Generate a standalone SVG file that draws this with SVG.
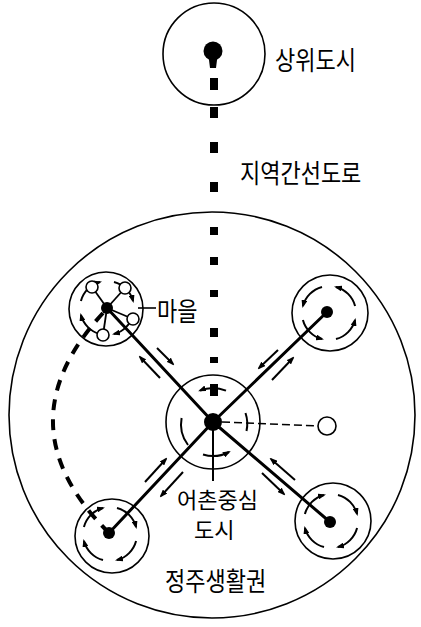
<svg xmlns="http://www.w3.org/2000/svg" width="421" height="627" viewBox="0 0 421 627">
<style>
.bg{fill:#fff}
.ring{fill:none;stroke:#000;stroke-width:1.6}
.arc{fill:none;stroke:#000;stroke-width:2}
.road{stroke:#000;stroke-width:3;fill:none;stroke-linecap:round}
.flow{stroke:#000;stroke-width:2;fill:none}
.dot{fill:#000}
.hollow{fill:#fff;stroke:#000;stroke-width:1.6}
.blk{fill:#000}
.lbl{font-family:"Noto Sans CJK KR","Noto Sans",sans-serif;font-size:22px;fill:#000}
</style>
<defs>
<marker id="ah" viewBox="0 0 8 6" refX="6" refY="3" markerWidth="8" markerHeight="6" markerUnits="userSpaceOnUse" orient="auto">
<path d="M0,0 L8,3 L0,6 z" fill="#000"/>
</marker>
<g id="sring">
<path class="arc" marker-end="url(#ah)" d="M6.99,-26.08 A27,27 0 0 1 26.08,-6.99"/>
<path class="arc" marker-end="url(#ah)" d="M26.08,6.99 A27,27 0 0 1 6.99,26.08"/>
<path class="arc" marker-end="url(#ah)" d="M-6.99,26.08 A27,27 0 0 1 -26.08,6.99"/>
<path class="arc" marker-end="url(#ah)" d="M-26.08,-6.99 A27,27 0 0 1 -6.99,-26.08"/>
</g>
</defs>
<rect class="bg" x="0" y="0" width="421" height="627"/>

<g id="region">
<circle class="ring" cx="212" cy="415" r="203"/>
<text class="lbl" transform="translate(165,591) scale(1,1.2)">정주생활권</text>
</g>

<g id="connectors">
<g id="regional-road">
<rect class="blk" x="210" y="78" width="8" height="12"/>
<rect class="blk" x="210" y="107" width="8" height="11"/>
<rect class="blk" x="210" y="142" width="8" height="11"/>
<rect class="blk" x="210" y="182" width="8" height="10"/>
<rect class="blk" x="210" y="227" width="8" height="8"/>
<rect class="blk" x="210" y="257" width="8" height="8"/>
<rect class="blk" x="210" y="290" width="8" height="7"/>
<rect class="blk" x="210" y="328" width="8" height="9"/>
<rect class="blk" x="210" y="357" width="8" height="6"/>
<rect class="blk" x="210" y="384" width="8" height="12"/>
</g>
<line class="road" x1="213" y1="422" x2="107" y2="308"/>
<line class="road" x1="213" y1="422" x2="327" y2="312"/>
<line class="road" x1="213" y1="422" x2="109" y2="533"/>
<line class="road" x1="213" y1="422" x2="330" y2="522"/>
<path d="M103,313 Q0,425 109,533" fill="none" stroke="#000" stroke-width="4" stroke-dasharray="11,9"/>
<line x1="222" y1="422" x2="318" y2="426" stroke="#000" stroke-width="1.5" stroke-dasharray="8,4"/>
<line x1="213" y1="422" x2="213" y2="481" stroke="#000" stroke-width="2"/>
<line x1="138" y1="308" x2="156" y2="308" stroke="#000" stroke-width="1.6"/>
<line class="flow" marker-end="url(#ah)" x1="157" y1="348" x2="173" y2="364"/>
<line class="flow" marker-end="url(#ah)" x1="160" y1="378" x2="140" y2="357"/>
<line class="flow" marker-end="url(#ah)" x1="278" y1="350" x2="259" y2="368"/>
<line class="flow" marker-end="url(#ah)" x1="272" y1="380" x2="293" y2="358"/>
<line class="flow" marker-end="url(#ah)" x1="145" y1="482" x2="166" y2="459"/>
<line class="flow" marker-end="url(#ah)" x1="183" y1="472" x2="161" y2="496"/>
<line class="flow" marker-end="url(#ah)" x1="295" y1="480" x2="271" y2="459"/>
<line class="flow" marker-end="url(#ah)" x1="262" y1="473" x2="284" y2="494"/>
</g>

<g id="upper-city">
<circle class="ring" cx="214" cy="54" r="51"/>
<circle class="dot" cx="213" cy="51" r="9.5"/>
<path class="dot" d="M208.5,56 L217.5,56 L216,68 L210,68 z"/>
<text class="lbl" transform="translate(275,70) scale(1,1.2)">상위도시</text>
<text class="lbl" transform="translate(240,183) scale(1,1.2)">지역간선도로</text>
</g>

<g id="center-city">
<circle class="ring" cx="213" cy="422" r="47"/>
<g transform="translate(213,422)">
<path class="arc" marker-end="url(#ah)" d="M13,-31.4 A34,34 0 0 0 -13,-31.4"/>
<path class="arc" d="M-31.4,-4 A34,34 0 0 0 -25,23"/>
<path class="arc" marker-end="url(#ah)" d="M-10,32.5 A34,34 0 0 0 16,30"/>
<path class="arc" d="M32.5,-9 A34,34 0 0 1 33.5,9"/>
</g>
<circle class="dot" cx="213" cy="422" r="9"/>
<text class="lbl"><tspan x="177" y="508">어촌중심</tspan><tspan x="194" y="538">도시</tspan></text>
</g>

<g id="village-tl">
<circle class="ring" cx="106" cy="309" r="37"/>
<use href="#sring" transform="translate(107,308)"/>
<g stroke="#000" stroke-width="1.8">
<line x1="107" y1="308" x2="92" y2="287"/>
<line x1="107" y1="308" x2="125" y2="288"/>
<line x1="107" y1="308" x2="133" y2="319"/>
<line x1="107" y1="308" x2="103" y2="335"/>
</g>
<circle class="hollow" cx="92" cy="287" r="6"/>
<circle class="hollow" cx="125" cy="288" r="6"/>
<circle class="hollow" cx="133" cy="319" r="6"/>
<circle class="hollow" cx="103" cy="335" r="6"/>
<circle class="dot" cx="107" cy="308" r="6"/>
<text class="lbl" transform="translate(157,321) scale(1,1.2)">마을</text>
</g>

<g id="node-tr">
<circle class="ring" cx="330" cy="313" r="38"/>
<use href="#sring" transform="translate(329,313) scale(-1,1)"/>
<circle class="dot" cx="327" cy="312" r="6"/>
</g>

<g id="node-bl">
<circle class="ring" cx="112" cy="536" r="37"/>
<use href="#sring" transform="translate(110,534)"/>
<circle class="dot" cx="109" cy="533" r="6"/>
</g>

<g id="node-br">
<circle class="ring" cx="333" cy="521" r="38"/>
<use href="#sring" transform="translate(331,521)"/>
<circle class="dot" cx="330" cy="522" r="6"/>
</g>

<g id="node-small">
<circle class="hollow" cx="327" cy="426" r="9"/>
</g>
</svg>
